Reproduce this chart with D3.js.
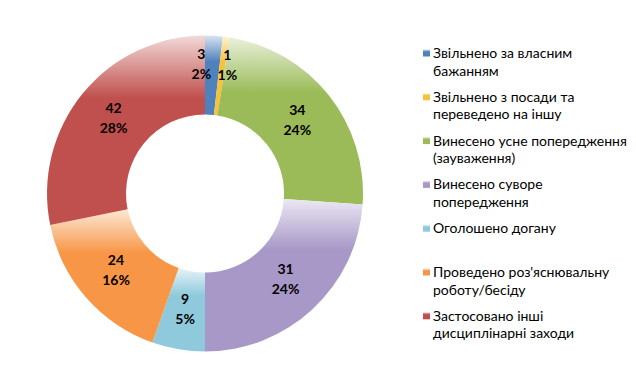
<!DOCTYPE html>
<html><head><meta charset="utf-8">
<script src="https://cdn.jsdelivr.net/npm/d3@7"></script>
<style>html,body{margin:0;padding:0;background:#fff;}svg{display:block;}</style>
</head><body>
<svg id="chart" width="636" height="392"></svg>
<script>
// ---- data ----
const categories = [
  "Звільнено за власним|бажанням",
  "Звільнено з посади та|переведено на іншу",
  "Винесено усне попередження|(зауваження)",
  "Винесено суворе|попередження",
  "Оголошено догану",
  "Проведено роз'яснювальну|роботу/бесіду",
  "Застосовано інші|дисциплінарні заходи"
];
const counts = [3, 1, 34, 31, 9, 24, 42];
const shares = [1.8, 0.7, 23.6, 23.9, 5.4, 16.4, 28.2];
const colors = ["#4F81BD", "#F6C23A", "#9BBB59", "#A898C8", "#8FCADC", "#F79646", "#C0504D"];

// ---- layout ----
const svg = d3.select("#chart");
const cx = 205, cy = 193.5, rOuter = 158, rInner = 79;
const rows = categories.map((c, i) => ({ cat: c, count: counts[i], share: shares[i], color: colors[i], i }));

const pie = d3.pie().sort(null).value(d => d.share);
const arcs = pie(rows);
const arc = d3.arc().innerRadius(rInner).outerRadius(rOuter);
const midArc = d3.arc().innerRadius(118).outerRadius(118);
const outArc = d3.arc().innerRadius(129).outerRadius(129);

const defs = svg.append("defs");
rows.forEach(d => {
  const g = defs.append("linearGradient").attr("id", "g" + d.i)
    .attr("x1", 0).attr("y1", 0).attr("x2", 0).attr("y2", 1);
  g.append("stop").attr("offset", 0).attr("stop-color", d3.interpolateRgb(d.color, "#ffffff")(0.78));
  g.append("stop").attr("offset", 0.33).attr("stop-color", d.color);
  g.append("stop").attr("offset", 1).attr("stop-color", d.color);
});

const gPie = svg.append("g").attr("transform", `translate(${cx},${cy})`);
gPie.selectAll("path").data(arcs).join("path")
  .attr("d", arc)
  .attr("fill", d => `url(#g${d.data.i})`);

// labels
const labs = arcs.map(a => {
  const small = a.data.share < 3;
  const [x, y] = (small ? outArc : midArc).centroid(a);
  return { x, y, a };
});
for (let k = 0; k + 1 < labs.length; k++) {
  const p = labs[k], q = labs[k + 1];
  const minSep = 26;
  if (Math.abs(p.x - q.x) < minSep && Math.abs(p.y - q.y) < 36) {
    const m = (p.x + q.x) / 2 - 3;
    p.x = m - minSep / 2; q.x = m + minSep / 2;
  }
}
const fmt = d3.format(".0f");
const lg = gPie.selectAll("g.lab").data(labs).join("g").attr("class", "lab")
  .attr("transform", d => `translate(${d.x},${d.y})`);
lg.append("text").attr("text-anchor", "middle").attr("y", -5.5)
  .attr("font-family", "Lato, 'Open Sans', sans-serif").attr("font-weight", "bold").attr("font-size", 14)
  .attr("fill", "#000").text(d => d.a.data.count);
lg.append("text").attr("text-anchor", "middle").attr("y", 14.5)
  .attr("font-family", "Lato, 'Open Sans', sans-serif").attr("font-weight", "bold").attr("font-size", 14)
  .attr("fill", "#000").text(d => fmt(d.a.data.share) + "%");

// legend
const legY = d3.scaleBand().domain(rows.map(d => d.i)).range([45, 351.6]).paddingInner(0);
const leg = svg.append("g");
const items = leg.selectAll("g").data(rows).join("g")
  .attr("transform", d => `translate(423,${legY(d.i)})`);
items.append("rect").attr("x", 0).attr("y", 4.5).attr("width", 7).attr("height", 7)
  .attr("fill", d => `url(#g${d.i})`);
items.each(function(d) {
  const t = d3.select(this).append("text")
    .attr("font-family", "Lato, 'Open Sans', sans-serif").attr("font-size", 14).attr("fill", "#000");
  d.cat.split("|").forEach((line, j) => {
    t.append("tspan").attr("x", 10).attr("y", 13 + j * 17.5).text(line);
  });
});
</script>
</body></html>
